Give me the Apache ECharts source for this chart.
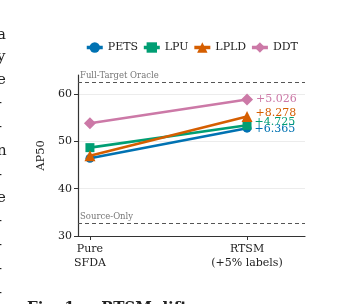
<!DOCTYPE html>
<html><head><meta charset="utf-8">
<script src="https://cdn.jsdelivr.net/npm/echarts@6/dist/echarts.min.js"></script>
<style>html,body{margin:0;padding:0;background:#fff}#c{width:340px;height:304px}</style>
</head><body><div id="c"></div>
<script>
const categories = ['Pure\nSFDA', 'RTSM\n(+5% labels)'];
const seriesNames = ['PETS', 'LPU', 'LPLD', 'DDT'];
const PETS = [46.4, 52.77];
const LPU = [48.66, 53.38];
const LPLD = [46.97, 55.25];
const DDT = [53.8, 58.83];
const gains = ['+6.365', '+4.725', '+8.278', '+5.026'];
const oracle = 62.5;
const sourceOnly = 32.7;
const yTicks = [30, 40, 50, 60];

const colors = ['#0072B2', '#009E73', '#D55E00', '#CC79A7'];
const symbols = ['circle', 'rect', 'triangle', 'diamond'];
const symSizes = [9, 9, 11, 12];
const labelOffsets = [[0, 1], [0, -3], [0, -3], [0, 0]];
const values = [PETS, LPU, LPLD, DDT];
const F = 'DejaVu Serif';

const series = seriesNames.map((n, i) => ({
  name: n, type: 'line',
  data: values[i].map((v, j) => {
    const d = { value: [j, v] };
    if (j === 1) d.label = { show: true, position: 'right', distance: 3, offset: labelOffsets[i],
      formatter: gains[i], color: colors[i], fontFamily: F, fontSize: 11 };
    return d;
  }),
  symbol: symbols[i], symbolSize: symSizes[i],
  lineStyle: { width: 2.6, color: colors[i] },
  itemStyle: { color: colors[i] },
  z: 3 + i,
  markLine: i === 0 ? {
    silent: true, symbol: 'none',
    lineStyle: { type: [4, 3], color: '#555', width: 1.2 },
    data: [
      { yAxis: oracle, label: { formatter: 'Full-Target Oracle' } },
      { yAxis: sourceOnly, label: { formatter: 'Source-Only' } }
    ],
    label: { show: true, position: 'insideStartTop', distance: [2, 2], color: '#777', fontFamily: F, fontSize: 8.5 }
  } : undefined
}));

const fragments = [['a',38],['y',60],['e',83],['-',106],['-',130],['n',154],['-',178],['e',201],['-',224],['-',248],['-',272],['-',296]];
const graphics = fragments.map(([t, y]) => ({
  type: 'text', left: -3, top: y - 10,
  style: { text: t, font: '15px "DejaVu Serif"', fill: '#222' }
}));
graphics.push({ type: 'text', left: 27, top: 301,
  style: { text: 'Fig. 1:    RTSM  lifts', font: 'bold 15px "DejaVu Serif"', fill: '#222' } });

const chart = echarts.init(document.getElementById('c'));
chart.setOption({
  animation: false,
  color: colors,
  textStyle: { fontFamily: F },
  legend: {
    top: 37, left: 80, itemGap: 4, itemWidth: 16, itemHeight: 13,
    textStyle: { fontFamily: F, fontSize: 11, color: '#222' },
    lineStyle: { width: 3.5 },
    data: seriesNames
  },
  grid: { left: 78, right: 35, top: 75, bottom: 68 },
  xAxis: {
    type: 'value', min: -0.076, max: 1.369,
    axisLine: { onZero: false, lineStyle: { color: '#333', width: 1.2 } },
    axisTick: { show: true, customValues: [0, 1], length: 4, lineStyle: { color: '#333' } },
    axisLabel: { customValues: [0, 1], formatter: v => categories[Math.round(v)],
      fontFamily: F, fontSize: 11, color: '#222', lineHeight: 14, margin: 6 },
    splitLine: { show: false }
  },
  yAxis: {
    type: 'value', min: 30, max: 64,
    name: 'AP50', nameLocation: 'middle', nameGap: 30,
    nameTextStyle: { fontFamily: F, fontSize: 11.5, color: '#222' },
    axisLine: { show: true, onZero: false, lineStyle: { color: '#333', width: 1.2 } },
    axisTick: { show: true, customValues: yTicks, length: 4, lineStyle: { color: '#333' } },
    axisLabel: { customValues: yTicks, fontFamily: F, fontSize: 11, color: '#222', margin: 6 },
    splitLine: { show: true, lineStyle: { color: '#ececec', width: 1 } }
  },
  series: series,
  graphic: graphics
});
</script></body></html>
